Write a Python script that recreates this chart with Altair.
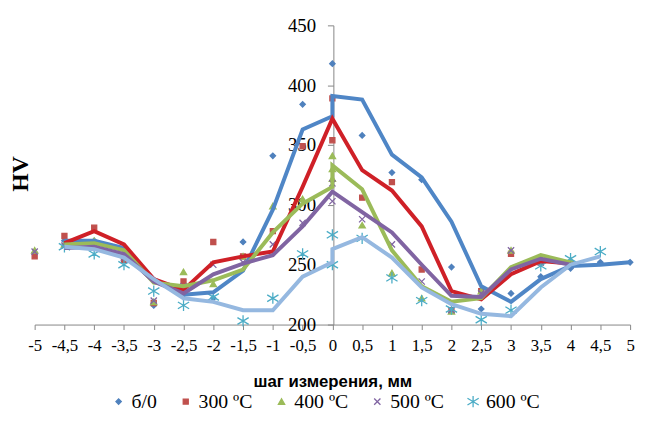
import altair as alt
import pandas as pd

# ---------------- data ----------------
series_names = ["б/0", "300 ºC", "400 ºC", "500 ºC", "600 ºC"]

# measured points (markers)
pts_x_b0 = [-5, -4.5, -4, -3.5, -3, -2.5, -2, -1.5, -1, -0.5, 0, 0.5, 1, 1.5, 2, 2.5, 3, 3.5, 4, 4.5, 5]
pts_y_b0 = [260, 270, 270, 258, 216, 225, 222, 269, 341, 384, 418, 358, 327, 321, 248, 213, 226, 240, 247, 252, 252]

pts_x_300 = [-5, -4.5, -4, -3.5, -3, -2.5, -2, -1.5, -1, -0.5, 0, 0, 0.5, 1, 1.5, 2, 2.5, 3, 3.5, 4]
pts_y_300 = [257, 274, 281, 254, 218, 236, 269, 257, 278, 349, 389, 354, 306, 319, 246, 212, 228, 259, 252, 250]

pts_x_400 = [-5, -4.5, -4, -3.5, -3, -2.5, -2, -1.5, -1, -0.5, 0, 0, 0, 0.5, 1, 1.5, 2, 2.5, 3, 3.5, 4]
pts_y_400 = [262, 267, 270, 258, 219, 244, 234, 257, 299, 305, 341, 330, 322, 283, 243, 222, 211, 228, 262, 256, 254]

pts_x_500 = [-5, -4.5, -4, -3.5, -3, -2.5, -2, -1.5, -1, -0.5, 0, 0, 0.5, 1, 1.5, 2, 2.5, 3, 3.5, 4]
pts_y_500 = [261, 266, 268, 256, 220, 232, 250, 252, 267, 285, 318, 303, 288, 267, 236, 212, 226, 262, 252, 250]

pts_x_600 = [-4.5, -4, -3.5, -3, -2.5, -2, -1.5, -1, -0.5, 0, 0, 0.5, 1, 1.5, 2, 2.5, 3, 3.5, 4, 4.5]
pts_y_600 = [265, 259, 250, 228, 216, 223, 203, 222, 259, 275, 250, 272, 239, 220, 213, 204, 212, 249, 255, 261]

# smoothed trend lines
line_x_b0 = [-4.5, -4, -3.5, -3, -2.5, -2, -1.5, -1, -0.5, 0, 0, 0.5, 1, 1.5, 2, 2.5, 3, 3.5, 4, 4.5, 5]
line_y_b0 = [270, 270, 264, 238, 225, 227, 245, 296, 363, 374, 391, 388, 342, 323, 286, 232, 219, 238, 249, 250, 252]

line_x_300 = [-4.5, -4, -3.5, -3, -2.5, -2, -1.5, -1, -0.5, 0, 0.5, 1, 1.5, 2, 2.5, 3, 3.5, 4]
line_y_300 = [268, 278, 267, 238, 229, 252, 257, 261, 315, 372, 329, 312, 282, 228, 221, 242, 253, 251]

line_x_400 = [-4.5, -4, -3.5, -3, -2.5, -2, -1.5, -1, -0.5, 0, 0, 0.5, 1, 1.5, 2, 2.5, 3, 3.5, 4]
line_y_400 = [267, 268, 262, 235, 232, 237, 246, 277, 301, 315, 333, 313, 262, 232, 219, 222, 248, 258, 252]

line_x_500 = [-4.5, -4, -3.5, -3, -2.5, -2, -1.5, -1, -0.5, 0, 0.5, 1, 1.5, 2, 2.5, 3, 3.5, 4]
line_y_500 = [264, 265, 259, 236, 226, 242, 251, 258, 282, 311, 294, 277, 250, 224, 223, 246, 255, 250]

line_x_600 = [-4.5, -4, -3.5, -3, -2.5, -2, -1.5, -1, -0.5, 0, 0, 0.5, 1, 1.5, 2, 2.5, 3, 3.5, 4, 4.5]
line_y_600 = [265, 263, 256, 238, 222, 219, 212, 212, 240, 252, 263, 273, 256, 231, 217, 209, 207, 231, 250, 257]

x_ticks = [-5, -4.5, -4, -3.5, -3, -2.5, -2, -1.5, -1, -0.5, 0, 0.5, 1, 1.5, 2, 2.5, 3, 3.5, 4, 4.5, 5]
y_ticks = [200, 250, 300, 350, 400, 450]

# ---------------- tables ----------------
pts_sets = [(pts_x_b0, pts_y_b0), (pts_x_300, pts_y_300), (pts_x_400, pts_y_400),
            (pts_x_500, pts_y_500), (pts_x_600, pts_y_600)]
line_sets = [(line_x_b0, line_y_b0), (line_x_300, line_y_300), (line_x_400, line_y_400),
             (line_x_500, line_y_500), (line_x_600, line_y_600)]

pts_rows = []
for name, (xs, ys) in zip(series_names, pts_sets):
    for x, y in zip(xs, ys):
        pts_rows.append({"series": name, "x": x, "y": y})
pts_df = pd.DataFrame(pts_rows)

line_rows = []
for name, (xs, ys) in zip(series_names, line_sets):
    for i, (x, y) in enumerate(zip(xs, ys)):
        line_rows.append({"series": name, "x": x, "y": y, "order": i})
line_df = pd.DataFrame(line_rows)

# ---------------- styles ----------------
point_colors = ["#4F81BD", "#C0504D", "#9BBB59", "#8064A2", "#4BACC6"]
line_colors = ["#4F86C6", "#CF2027", "#9BBB59", "#8064A2", "#95B8E0"]
shapes = ["diamond", "square", "triangle-up",
          "M-1,-1L1,1M-1,1L1,-1",
          "M0,-1L0,1M-1,-0.6L1,0.6M-1,0.6L1,-0.6"]
sizes = [30, 26, 40, 40, 130]
axis_gray = "#868686"

x_scale = alt.Scale(domain=[-5, 5], nice=False, zero=False)
y_scale = alt.Scale(domain=[200, 450], nice=False, zero=False)

x_axis = alt.Axis(
    values=x_ticks, grid=False, tickSize=5, tickColor=axis_gray, domainColor=axis_gray,
    labelExpr="replace(toString(datum.value), '.', ',')",
    labelFont="Liberation Serif", labelFontSize=17, labelColor="black",
    labelFlush=False, labelOverlap=False, labelPadding=8,
    title="шаг измерения, мм", titleFont="Liberation Sans", titleFontSize=17,
    titleFontWeight="bold", titleColor="black", titlePadding=21,
)
y_axis = alt.Axis(
    values=y_ticks, grid=False, tickSize=6, tickColor=axis_gray, domainColor=axis_gray,
    offset=-302.5, labelFont="Liberation Serif", labelFontSize=19, labelColor="black",
    labelPadding=12, labelFlush=False,
    title="HV", titleFont="Liberation Serif", titleFontSize=24, titleFontWeight="bold",
    titleColor="black", titleAngle=270, titleX=-317, titleY=150,
    titleAlign="center", titleBaseline="middle",
)

leg = alt.Legend(
    title=None, orient="none", direction="horizontal", legendX=75, legendY=371,
    labelFont="Liberation Serif", labelFontSize=20, labelColor="black",
    columnPadding=19, labelOffset=3, symbolStrokeWidth=1.3,
)

X = alt.X("x:Q", scale=x_scale, axis=x_axis)
Y = alt.Y("y:Q", scale=y_scale, axis=y_axis)

points = alt.Chart(pts_df).mark_point(opacity=1, strokeWidth=1.3).encode(
    x=X, y=Y,
    fill=alt.Fill("series:N", scale=alt.Scale(domain=series_names, range=point_colors), legend=leg),
    stroke=alt.Stroke("series:N", scale=alt.Scale(domain=series_names, range=point_colors), legend=leg),
    shape=alt.Shape("series:N", scale=alt.Scale(domain=series_names, range=shapes), legend=leg),
    size=alt.Size("series:N", scale=alt.Scale(type="ordinal", domain=series_names, range=sizes), legend=leg),
)

lines = alt.Chart(line_df).mark_line(strokeWidth=4).encode(
    x=X, y=Y,
    color=alt.Color("series:N", scale=alt.Scale(domain=series_names, range=line_colors), legend=None),
    order="order:Q",
)

chart = alt.layer(points, lines).properties(
    width=603, height=303,
    autosize=alt.AutoSizeParams(type="none"),
    padding={"left": 27, "top": 15, "right": 8, "bottom": 88},
).configure_view(stroke=None)

chart.save("out.html", embed_options={"renderer": "svg", "actions": False})
